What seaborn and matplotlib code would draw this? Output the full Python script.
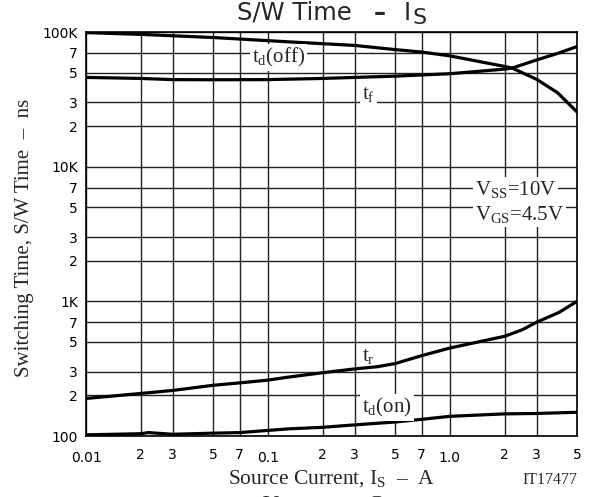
import numpy as np
import pandas as pd
import matplotlib
matplotlib.use("Agg")
import matplotlib.pyplot as plt
import matplotlib.transforms as mtrans
from matplotlib.ticker import FixedLocator, FixedFormatter, NullLocator
import seaborn as sns

# ---------------- data ----------------
td_off_x = [0.01, 0.02, 0.05, 0.13, 0.3, 0.5, 0.7, 1.0, 2.0, 2.2, 3.0, 3.9, 5.0]
td_off_y = [99000, 96000, 91000, 84500, 79500, 74000, 71000, 66500, 55500, 54000, 44500, 35500, 25500]

tf_x = [0.01, 0.02, 0.03, 0.05, 0.1, 0.2, 0.3, 0.5, 1.0, 2.0, 2.2, 3.0, 4.0, 5.0]
tf_y = [46000, 45200, 44300, 44200, 44300, 45200, 46000, 47000, 49000, 53000, 54000, 62000, 70000, 78000]

tr_x = [0.01, 0.02, 0.03, 0.05, 0.07, 0.1, 0.13, 0.2, 0.3, 0.4, 0.5, 0.7, 1.0, 2.0, 2.5, 3.0, 4.0, 5.0]
tr_y = [190, 207, 218, 238, 248, 260, 274, 295, 315, 327, 345, 395, 450, 550, 615, 700, 830, 1000]

td_on_x = [0.01, 0.02, 0.022, 0.03, 0.05, 0.07, 0.1, 0.13, 0.2, 0.3, 0.5, 0.7, 1.0, 2.0, 3.0, 5.0]
td_on_y = [102, 104, 106, 103, 105, 106, 110, 113, 116, 121, 127, 133, 140, 146, 147, 150]

x_ticks = [0.01, 0.02, 0.03, 0.05, 0.07, 0.1, 0.2, 0.3, 0.5, 0.7, 1.0, 2, 3, 5]
x_tick_labels = ["0.01", "2", "3", "5", "7", "0.1", "2", "3", "5", "7", "1.0", "2", "3", "5"]
y_ticks = [100, 200, 300, 500, 700, 1000, 2000, 3000, 5000, 7000,
           10000, 20000, 30000, 50000, 70000, 100000]
y_tick_labels = ["100", "2", "3", "5", "7", "1K", "2", "3", "5", "7",
                 "10K", "2", "3", "5", "7", "100K"]

series = {
    "td(off)": (td_off_x, td_off_y),
    "tf": (tf_x, tf_y),
    "tr": (tr_x, tr_y),
    "td(on)": (td_on_x, td_on_y),
}
df = pd.concat(
    [pd.DataFrame({"I": xs, "t": ys, "curve": name}) for name, (xs, ys) in series.items()],
    ignore_index=True,
)

# ---------------- style ----------------
sns.set_theme(style="white")
plt.rcParams.update({
    "font.family": ["DejaVu Sans"],
    "mathtext.fontset": "custom",
    "mathtext.rm": "Liberation Serif",
    "mathtext.it": "Liberation Serif:italic",
    "mathtext.bf": "Liberation Serif:bold",
    "mathtext.sf": "DejaVu Sans",
})

W, H = 595, 497
fig = plt.figure(figsize=(W / 100, H / 100), dpi=100)
ax = fig.add_axes([86 / W, (H - 436) / H, (577 - 86) / W, (436 - 32) / H])
ax.set_xscale("log")
ax.set_yscale("log")

for name in series:
    sub = df[df["curve"] == name]
    sns.lineplot(data=sub, x="I", y="t", color="black", lw=2.3,
                 estimator=None, sort=False, ax=ax, zorder=3)

ax.set_xlim(0.01, 5)
ax.set_ylim(100, 100000)
ax.xaxis.set_major_locator(FixedLocator(x_ticks))
ax.xaxis.set_major_formatter(FixedFormatter(x_tick_labels))
ax.xaxis.set_minor_locator(NullLocator())
ax.yaxis.set_major_locator(FixedLocator(y_ticks))
ax.yaxis.set_major_formatter(FixedFormatter(y_tick_labels))
ax.yaxis.set_minor_locator(NullLocator())
ax.grid(True, which="major", color="#222222", lw=1.0, zorder=1)
ax.set_axisbelow(True)
ax.tick_params(axis="both", length=0, labelsize=10, colors="black")
ax.tick_params(axis="y", pad=5.8)
ax.tick_params(axis="x", pad=8.6)
for s in ax.spines.values():
    s.set_color("black")
    s.set_linewidth(1.2)
ax.set_xlabel("")
ax.set_ylabel("")

# decade labels sit a bit lower
off = mtrans.ScaledTranslation(0, -3 / 100, fig.dpi_scale_trans)
for lab, txt in zip(ax.get_xticklabels(), x_tick_labels):
    if txt in ("0.01", "0.1", "1.0"):
        lab.set_transform(lab.get_transform() + off)

serif = "Liberation Serif"
box = dict(fc="white", ec="none", pad=1.5)

ax.text(0.082, 59000, r"t$_\mathrm{d}$(off)", family=serif, fontsize=15,
        ha="left", va="baseline", bbox=box, zorder=4)
ax.text(0.33, 31600, r"t$_\mathrm{f}$", family=serif, fontsize=15,
        ha="left", va="baseline", bbox=box, zorder=4)
ax.text(1.37, 6200, r"V$_\mathrm{SS}$=10V", family=serif, fontsize=15,
        ha="left", va="baseline", bbox=box, zorder=4)
ax.text(1.37, 4030, r"V$_\mathrm{GS}$=4.5V", family=serif, fontsize=15,
        ha="left", va="baseline", bbox=box, zorder=4)
ax.text(0.33, 363, r"t$_\mathrm{r}$", family=serif, fontsize=15,
        ha="left", va="baseline", zorder=4)
ax.text(0.33, 149, r"t$_\mathrm{d}$(on)", family=serif, fontsize=15,
        ha="left", va="baseline", bbox=box, zorder=4)

# title
ty = 1 - 20 / H
fig.text(237 / W, ty, "S/W Time", fontsize=17.5, ha="left", va="baseline")
fig.text(380 / W, ty, "–", fontsize=17.5, fontweight="bold", ha="center", va="baseline")
fig.text(404 / W, ty, "I", fontsize=17.5, ha="left", va="baseline")
fig.text(412 / W, ty - 4 / H, "S", fontsize=16, ha="left", va="baseline")

# axis labels
fig.text(25 / W, 1 - 238 / H, "Switching Time, S/W Time  –  ns", family=serif,
         fontsize=15, rotation=90, ha="center", va="center")
fig.text(332 / W, 1 - 484 / H, r"Source Current, I$_\mathrm{S}$  –  A", family=serif,
         fontsize=15.5, ha="center", va="baseline")
fig.text(577 / W, 1 - 484 / H, "IT17477", family=serif, fontsize=11.5,
         ha="right", va="baseline")

# partially visible text cut by the bottom edge
fig.text(263 / W, 1 - 510 / H, "V", family=serif, fontsize=16, ha="left", va="baseline")
fig.text(367 / W, 1 - 510 / H, "C", family=serif, fontsize=16, ha="left", va="baseline")

fig.savefig("out.png", dpi=100)
